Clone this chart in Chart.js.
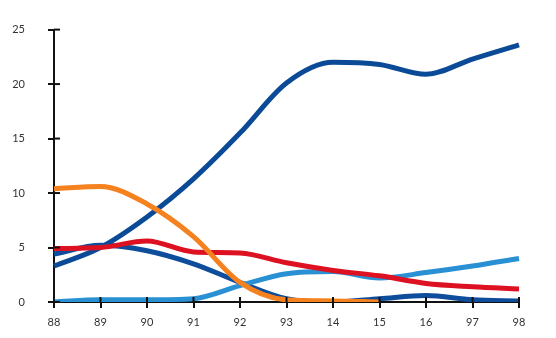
<!DOCTYPE html>
<html><head><meta charset="utf-8">
<script src="https://cdn.jsdelivr.net/npm/chart.js@4"></script>
<style>html,body{margin:0;padding:0;background:#fff}#wrap{width:556px;height:338px}</style>
</head><body><div id="wrap"><canvas id="c" width="556" height="338"></canvas></div>
<script>
const categories = ["88","89","90","91","92","93","14","15","16","97","98"];
const yTicks = [0,5,10,15,20,25];
const seriesRising = [3.3,5.0,7.8,11.3,15.5,20.1,22.0,21.8,20.9,22.3,23.6];
const seriesOrange = [10.4,10.6,9.0,6.0,1.8,0.2,0.1,0,null,null,null];
const seriesRed = [4.9,5.0,5.6,4.6,4.5,3.6,2.9,2.4,1.7,1.4,1.2];
const seriesLight = [0,0.2,0.2,0.3,1.5,2.6,2.8,2.2,2.7,3.3,4.0];
const seriesDecl = [4.4,5.2,4.7,3.5,1.8,0.3,0,0.3,0.6,0.2,0.1];

const innerTicks = {
  id:'innerTicks',
  afterDraw(chart){
    const ctx = chart.ctx, y = chart.scales.y, x = chart.scales.x;
    ctx.save(); ctx.strokeStyle='#111'; ctx.lineWidth=2;
    y.ticks.forEach((t,i)=>{const p=y.getPixelForTick(i); ctx.beginPath(); ctx.moveTo(y.right,p); ctx.lineTo(y.right+6,p); ctx.stroke();});
    x.ticks.forEach((t,i)=>{const p=x.getPixelForTick(i); ctx.beginPath(); ctx.moveTo(p,x.top); ctx.lineTo(p,x.top-5); ctx.stroke();});
    ctx.restore();
  }
};
const ds = (data,color)=>({data,borderColor:color,backgroundColor:color,borderWidth:5,pointRadius:0,cubicInterpolationMode:'monotone',spanGaps:false,fill:false});
new Chart(document.getElementById('c'),{
  type:'line',
  data:{labels:categories,datasets:[
    ds(seriesOrange,'#f5821f'),
    ds(seriesRed,'#dd1121'),
    ds(seriesLight,'#2a90d4'),
    ds(seriesDecl,'#0d4d9b'),
    ds(seriesRising,'#0b4a97')
  ]},
  options:{
    responsive:false,animation:false,
    layout:{padding:{top:25,right:37,left:0,bottom:0}},
    plugins:{legend:{display:false},tooltip:{enabled:false}},
    scales:{
      x:{offset:false,
        grid:{display:true,drawOnChartArea:false,drawTicks:true,tickLength:6,color:'#111',lineWidth:2},
        border:{display:true,color:'#111',width:2},
        ticks:{padding:8,color:'#333',font:{family:'Lato',size:11},maxRotation:0,autoSkip:false},
        afterFit(s){s.height=36;}
      },
      y:{min:0,max:25,
        afterBuildTicks(s){s.ticks=yTicks.map(v=>({value:v}));},
        grid:{display:true,drawOnChartArea:false,drawTicks:true,tickLength:6,color:'#111',lineWidth:2},
        border:{display:true,color:'#111',width:2},
        ticks:{padding:23,color:'#333',font:{family:'Lato',size:11}},
        afterFit(s){s.width=54;}
      }
    }
  },
  plugins:[innerTicks]
});
</script></body></html>
